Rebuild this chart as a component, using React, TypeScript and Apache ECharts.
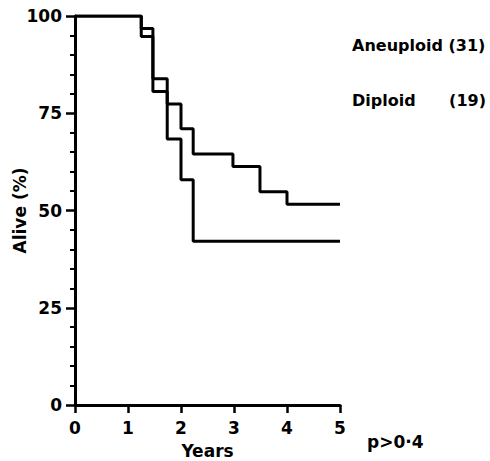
import React, { useEffect, useRef } from "react";
import * as echarts from "echarts";

const aneuploidTimes = [0, 1.25, 1.47, 1.74, 2.0, 2.23, 2.98, 3.49, 4.0, 5];
const aneuploidAlive = [100, 96.8, 83.9, 77.4, 71.0, 64.5, 61.3, 54.8, 51.6, 51.6];
const diploidTimes = [0, 1.25, 1.47, 1.74, 2.0, 2.23, 5];
const diploidAlive = [100, 94.7, 80.6, 68.4, 57.9, 42.1, 42.1];
const legendLabels = ["Aneuploid (31)", "Diploid", "(19)"];
const pValueText = "p>0·4";

const FONT = "DejaVu Sans";

export default function App() {
  const ref = useRef<HTMLDivElement>(null);
  useEffect(() => {
    if (!ref.current) return;
    const chart = echarts.init(ref.current, undefined, { renderer: "svg" });
    const pair = (t: number[], v: number[]) => t.map((x, i) => [x, v[i]]);
    const lineStyle = { color: "#000", width: 3 };
    const txt = { fontFamily: FONT, fontWeight: "bold", fill: "#000" };
    chart.setOption({
      animation: false,
      backgroundColor: "#fff",
      grid: { left: 75, right: 150, top: 16, bottom: 56, containLabel: false, outerBoundsMode: "none" },
      xAxis: {
        type: "value",
        min: 0,
        max: 5,
        interval: 1,
        name: "Years",
        nameLocation: "middle",
        nameGap: 37,
        nameMoveOverlap: false,
        nameTextStyle: { fontFamily: FONT, fontWeight: "bold", fontSize: 17, color: "#000" },
        axisLine: { onZero: false, lineStyle: { color: "#000", width: 3 } },
        axisTick: { show: true, inside: false, length: 8, lineStyle: { color: "#000", width: 2.5 } },
        axisLabel: { margin: 14, fontFamily: FONT, fontWeight: "bold", fontSize: 17, color: "#000" },
        splitLine: { show: false },
      },
      yAxis: {
        type: "value",
        min: 0,
        max: 100,
        interval: 25,
        name: "Alive (%)",
        nameLocation: "middle",
        nameGap: 47,
        nameMoveOverlap: false,
        nameTextStyle: { fontFamily: FONT, fontWeight: "bold", fontSize: 17, color: "#000" },
        axisLine: { show: true, onZero: false, lineStyle: { color: "#000", width: 3 } },
        axisTick: { show: true, inside: false, length: 9, lineStyle: { color: "#000", width: 2.5 } },
        minorTick: { show: true, splitNumber: 5, length: 5, lineStyle: { color: "#000", width: 2 } },
        axisLabel: { margin: 13, fontFamily: FONT, fontWeight: "bold", fontSize: 17, color: "#000" },
        splitLine: { show: false },
      },
      series: [
        {
          name: "Aneuploid",
          type: "line",
          step: "end",
          symbol: "none",
          data: pair(aneuploidTimes, aneuploidAlive),
          lineStyle,
        },
        {
          name: "Diploid",
          type: "line",
          step: "end",
          symbol: "none",
          data: pair(diploidTimes, diploidAlive),
          lineStyle,
        },
      ],
      graphic: [
        {
          type: "text",
          x: 352,
          y: 45,
          style: { ...txt, text: legendLabels[0], fontSize: 16, textAlign: "left", textVerticalAlign: "middle" },
        },
        {
          type: "text",
          x: 352,
          y: 100,
          style: { ...txt, text: legendLabels[1], fontSize: 16, textAlign: "left", textVerticalAlign: "middle" },
        },
        {
          type: "text",
          x: 486,
          y: 100,
          style: { ...txt, text: legendLabels[2], fontSize: 16, textAlign: "right", textVerticalAlign: "middle" },
        },
        {
          type: "text",
          x: 367,
          y: 442,
          style: { ...txt, text: pValueText, fontSize: 17, textAlign: "left", textVerticalAlign: "middle" },
        },
      ],
    });
    return () => chart.dispose();
  }, []);
  return (
    <div
      ref={ref}
      style={{ position: "fixed", left: 0, top: 0, width: 490, height: 461 }}
    />
  );
}
